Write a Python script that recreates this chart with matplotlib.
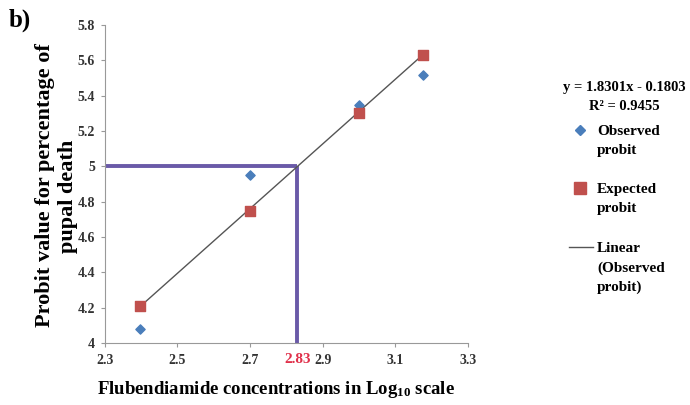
import numpy as np
import matplotlib
matplotlib.use('Agg')
import matplotlib.pyplot as plt
from matplotlib.lines import Line2D

# data
log_conc = [2.398, 2.699, 3.0, 3.176]
observed = [4.08, 4.95, 5.35, 5.52]
expected = [4.21, 4.75, 5.30, 5.63]
slope, intercept = 1.8301, -0.1803
r2 = 0.9455
lc50_x, lc50_y = 2.83, 5.0

xticks = [2.3, 2.5, 2.7, 2.9, 3.1, 3.3]
xticklabels = ['2.3', '2.5', '2.7', '2.9', '3.1', '3.3']
yticks = [4, 4.2, 4.4, 4.6, 4.8, 5, 5.2, 5.4, 5.6, 5.8]
yticklabels = ['4', '4.2', '4.4', '4.6', '4.8', '5', '5.2', '5.4', '5.6', '5.8']

plt.rcParams['font.family'] = ['Liberation Serif', 'DejaVu Serif']
plt.rcParams['font.weight'] = 'bold'
plt.rcParams['mathtext.fontset'] = 'custom'
plt.rcParams['mathtext.rm'] = 'Liberation Serif:bold'
plt.rcParams['mathtext.it'] = 'Liberation Serif:bold'
plt.rcParams['mathtext.bf'] = 'Liberation Serif:bold'

blue = '#4A7EBB'
red = '#C0504D'
grey = '#555555'
purple = '#6A5AA8'

fig = plt.figure(figsize=(6.9, 4.05), dpi=100)
ax = fig.add_axes([0.152, 0.153, 0.526, 0.785])

# LC50 guide lines
ax.plot([2.3, lc50_x], [lc50_y, lc50_y], color=purple, lw=2.8, solid_capstyle='butt', zorder=2)
ax.plot([lc50_x, lc50_x], [4.0, lc50_y], color=purple, lw=2.8, solid_capstyle='butt', zorder=2)

# trend line of observed probit
xl = np.array([log_conc[0], log_conc[-1]])
ax.plot(xl, slope * xl + intercept, color=grey, lw=1.0, zorder=3)

ax.scatter(log_conc, observed, marker='D', s=22, color=blue, zorder=4)
ax.scatter(log_conc, expected, marker='s', s=55, color=red, zorder=4)

ax.set_xlim(2.3, 3.3)
ax.set_ylim(4, 5.8)
ax.set_xticks(xticks)
ax.set_xticklabels(xticklabels)
ax.set_yticks(yticks)
ax.set_yticklabels(yticklabels)
ax.tick_params(labelsize=10, length=3, color='#999999', labelcolor='#333333')
ax.tick_params(axis='x', pad=5)
ax.tick_params(axis='y', pad=4)
for s in ['top', 'right']:
    ax.spines[s].set_visible(False)
for s in ['left', 'bottom']:
    ax.spines[s].set_color('#999999')

ax.text(lc50_x, -0.03, '2.83', color='#E0304A', fontsize=11, ha='center', va='top',
        transform=ax.get_xaxis_transform())

# axis titles
fig.text(45 / 690, 1 - 185 / 405, 'Probit value for percentage of', rotation=90,
         fontsize=16, fontweight='bold', ha='center', va='center')
fig.text(68 / 690, 1 - 196 / 405, 'pupal death', rotation=90,
         fontsize=16, fontweight='bold', ha='center', va='center')
fig.text(276 / 690, 1 - 389 / 405, 'Flubendiamide concentrations in Log$_{10}$ scale',
         fontsize=13.5, fontweight='bold', ha='center', va='center')

fig.text(0.012, 0.935, 'b)', fontsize=18, fontweight='bold')

# trendline equation
fig.text(624 / 690, 1 - 88 / 405, 'y = %.4fx - %.4f' % (slope, -intercept), fontsize=10.5,
         ha='center', va='center')
fig.text(624 / 690, 1 - 107 / 405, 'R² = %.4f' % r2, fontsize=10.5, ha='center', va='center')

# legend drawn by hand so the markers line up with the first text line
fx = lambda px: px / 690
fy = lambda py: 1 - py / 405
fig.add_artist(Line2D([fx(580)], [fy(130)], marker='D', ls='none', color=blue, markersize=5,
                      transform=fig.transFigure))
fig.add_artist(Line2D([fx(580)], [fy(188)], marker='s', ls='none', color=red, markersize=8,
                      transform=fig.transFigure))
fig.add_artist(Line2D([fx(569), fx(593)], [fy(247), fy(247)], color=grey, lw=1.0,
                      transform=fig.transFigure))
legend_labels = ['Observed\nprobit', 'Expected\nprobit', 'Linear\n(Observed\nprobit)']
legend_y = [130, 188, 247]
for lab, py in zip(legend_labels, legend_y):
    fig.text(fx(597), fy(py - 5), lab, fontsize=11, fontweight='bold', ha='left', va='top',
             linespacing=1.6)

fig.savefig('out.png', dpi=100)
